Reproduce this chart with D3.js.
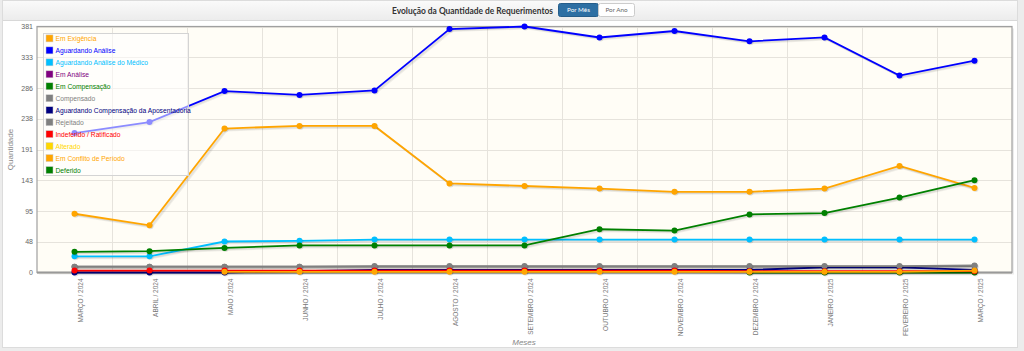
<!DOCTYPE html>
<html>
<head>
<meta charset="utf-8">
<script src="https://cdn.jsdelivr.net/npm/d3@7"></script>
<style>
  body { margin: 0; background: #ececec; }
  svg { display: block; font-family: "Liberation Sans", Arial, sans-serif; }
</style>
</head>
<body>
<svg id="chart"></svg>
<script>
const months = ["MARÇO / 2024", "ABRIL / 2024", "MAIO / 2024", "JUNHO / 2024", "JULHO / 2024",
  "AGOSTO / 2024", "SETEMBRO / 2024", "OUTUBRO / 2024", "NOVEMBRO / 2024", "DEZEMBRO / 2024",
  "JANEIRO / 2025", "FEVEREIRO / 2025", "MARÇO / 2025"];

const yTicks = [0, 47.625, 95.25, 142.875, 190.5, 238.125, 285.75, 333.375, 381];
const yTickLabels = ["0", "48", "95", "143", "191", "238", "286", "333", "381"];

const seriesNames = ["Em Exigência", "Aguardando Análise", "Aguardando Análise do Médico", "Em Análise",
  "Em Compensação", "Compensado", "Aguardando Compensação da Aposentadoria", "Rejeitado",
  "Indeferido / Ratificado", "Alterado", "Em Conflito de Período", "Deferido"];
const seriesColors = ["#FFA500", "#0000FF", "#00BFFF", "#800080", "#008000", "#808080",
  "#000080", "#808080", "#FF0000", "#FFD700", "#FFA500", "#008000"];

const emExigencia = [91, 73, 223, 227, 227, 138, 134, 130, 125, 125, 130, 165, 131];
const aguardandoAnalise = [216, 233, 281, 275, 282, 377, 381, 364, 374, 358, 364, 305, 328];
const aguardandoMedico = [25, 25, 48, 49, 51, 51, 51, 51, 51, 51, 51, 51, 51];
const emAnalise = [null, null, null, null, null, null, null, null, null, null, null, null, null];
const emCompensacao = [null, null, null, null, null, null, null, null, null, 0, 0, 0, 0];
const compensado = [9, 9, 9, 9, 9, 9, 9, 9, 9, 9, 9, 9, 10];
const aguardandoAposentadoria = [0, 0, 0, 2, 4, 4, 4, 4, 4, 4, 8, 8, 4];
const rejeitado = [9, 9, 9, 9, 10, 10, 10, 10, 10, 10, 10, 10, 11];
const indeferido = [3, 3, 3, 3, 3, 3, 3, 3, 3, 2, 2, 2, 2];
const alterado = [null, null, null, null, null, null, null, null, null, null, null, null, null];
const emConflito = [null, null, 1, 1, 1, 1, 1, 1, 1, 1, 1, 1, 3];
const deferido = [32, 33, 38, 42, 42, 42, 42, 67, 65, 90, 92, 116, 143];

const seriesValues = [emExigencia, aguardandoAnalise, aguardandoMedico, emAnalise, emCompensacao,
  compensado, aguardandoAposentadoria, rejeitado, indeferido, alterado, emConflito, deferido];

const series = seriesNames.map((name, i) => ({
  name, color: seriesColors[i],
  values: seriesValues[i].map((v, j) => ({ month: months[j], value: v }))
}));

const W = 1024, H = 351;
const plot = { left: 37, right: 1012, top: 26.5, bottom: 272.5 };

const svg = d3.select("#chart").attr("width", W).attr("height", H);

// panel + header
svg.append("rect").attr("x", 2.5).attr("y", 0.5).attr("width", 1015).attr("height", 347)
  .attr("fill", "#fff").attr("stroke", "#dcdcdc");
const grad = svg.append("defs").append("linearGradient").attr("id", "hdr").attr("x1", 0).attr("x2", 0).attr("y1", 0).attr("y2", 1);
grad.append("stop").attr("offset", "0%").attr("stop-color", "#fafafa");
grad.append("stop").attr("offset", "100%").attr("stop-color", "#ececec");
svg.append("rect").attr("x", 3).attr("y", 1).attr("width", 1014).attr("height", 19).attr("fill", "url(#hdr)");
svg.append("line").attr("x1", 3).attr("x2", 1017).attr("y1", 20.5).attr("y2", 20.5).attr("stroke", "#d8d8d8");

svg.append("text").attr("x", 472.5).attr("y", 13.5).attr("text-anchor", "middle")
  .attr("textLength", 161).attr("lengthAdjust", "spacingAndGlyphs")
  .style("font-family", "Lato, sans-serif").style("font-weight", "bold").style("font-size", "9px")
  .style("fill", "#333").text("Evolução da Quantidade de Requerimentos");

svg.append("rect").attr("x", 558.5).attr("y", 3.5).attr("width", 40).attr("height", 13)
  .attr("rx", 2).attr("fill", "#2d6fa3").attr("stroke", "#255d8a");
svg.append("text").attr("x", 578.5).attr("y", 12.3).attr("text-anchor", "middle")
  .style("font-family", "Lato, sans-serif").style("font-size", "6.3px").style("fill", "#fff").text("Por Mês");
svg.append("rect").attr("x", 598.5).attr("y", 3.5).attr("width", 36).attr("height", 13)
  .attr("rx", 2).attr("fill", "#fff").attr("stroke", "#ccc");
svg.append("text").attr("x", 616.5).attr("y", 12.3).attr("text-anchor", "middle")
  .style("font-family", "Lato, sans-serif").style("font-size", "6.3px").style("fill", "#666").text("Por Ano");

// scales
const x = d3.scaleBand().domain(months).range([plot.left, plot.right]);
const cx = d => x(d) + x.bandwidth() / 2;
const y = d3.scaleLinear().domain([0, 381]).range([plot.bottom, plot.top]);

// plot background + shadow
svg.append("rect").attr("x", plot.left + 2).attr("y", plot.top + 2)
  .attr("width", plot.right - plot.left).attr("height", plot.bottom - plot.top)
  .attr("fill", "#000").attr("opacity", 0.07);
svg.append("rect").attr("x", plot.left).attr("y", plot.top)
  .attr("width", plot.right - plot.left).attr("height", plot.bottom - plot.top)
  .attr("fill", "#fffdf6");

// grid
svg.append("g").selectAll("line").data(yTicks).join("line")
  .attr("x1", plot.left).attr("x2", plot.right)
  .attr("y1", d => Math.round(y(d)) + 0.5).attr("y2", d => Math.round(y(d)) + 0.5)
  .attr("stroke", "#e6e3dc");
svg.append("g").selectAll("line").data(months.slice(1)).join("line")
  .attr("x1", d => Math.round(x(d)) + 0.5).attr("x2", d => Math.round(x(d)) + 0.5)
  .attr("y1", plot.top).attr("y2", plot.bottom)
  .attr("stroke", "#e6e3dc");

svg.append("rect").attr("x", plot.left).attr("y", plot.top)
  .attr("width", plot.right - plot.left).attr("height", plot.bottom - plot.top)
  .attr("fill", "none").attr("stroke", "#a0a0a0").attr("stroke-width", 1.2);
svg.append("line").attr("x1", plot.left).attr("x2", plot.right)
  .attr("y1", plot.bottom).attr("y2", plot.bottom).attr("stroke", "#999").attr("stroke-width", 2);

// axes labels
svg.append("g").selectAll("text").data(yTicks).join("text")
  .attr("x", 33).attr("y", d => y(d) + 2.5).attr("text-anchor", "end")
  .style("font-size", "7px").style("fill", "#666")
  .text((d, i) => yTickLabels[i]);

svg.append("g").selectAll("text").data(months).join("text")
  .attr("transform", d => `translate(${cx(d) + 8},${plot.bottom + 6}) rotate(-90)`)
  .attr("text-anchor", "end")
  .style("font-size", "6.5px").style("fill", "#777")
  .text(d => d);

svg.append("text").attr("transform", `translate(13,${(plot.top + plot.bottom) / 2}) rotate(-90)`)
  .attr("text-anchor", "middle").style("font-size", "8px").style("fill", "#888").text("Quantidade");
svg.append("text").attr("x", 524).attr("y", 345).attr("text-anchor", "middle")
  .style("font-size", "8px").style("font-style", "italic").style("fill", "#888").text("Meses");

// lines
const line = d3.line().defined(d => d.value !== null).x(d => cx(d.month)).y(d => y(d.value));
const gSeries = svg.append("g");
series.forEach(s => {
  const g = gSeries.append("g");
  [1, 2, 3].forEach(k => {
    g.append("path").datum(s.values).attr("d", line)
      .attr("transform", `translate(${0.7 * k},${0.7 * k})`)
      .attr("fill", "none").attr("stroke", "#000").attr("stroke-opacity", 0.06).attr("stroke-width", 1.8);
  });
  g.append("path").datum(s.values).attr("d", line)
    .attr("fill", "none").attr("stroke", s.color).attr("stroke-width", 1.8);
  const pts = s.values.filter(d => d.value !== null);
  g.selectAll("circle.sh").data(pts).join("circle").attr("class", "sh")
    .attr("cx", d => cx(d.month) + 1).attr("cy", d => y(d.value) + 1).attr("r", 3)
    .attr("fill", "#000").attr("opacity", 0.1);
  g.selectAll("circle.pt").data(pts).join("circle").attr("class", "pt")
    .attr("cx", d => cx(d.month)).attr("cy", d => y(d.value)).attr("r", 3)
    .attr("fill", s.color);
});

// legend
const lg = svg.append("g");
lg.append("rect").attr("x", 43.5).attr("y", 33.5).attr("width", 145).attr("height", 142)
  .attr("fill", "#fff").attr("fill-opacity", 0.55).attr("stroke", "#d4d4d4");
const rows = lg.selectAll("g.row").data(series).join("g").attr("class", "row")
  .attr("transform", (d, i) => `translate(0,${38.4 + i * 11.97})`);
rows.append("rect").attr("x", 46).attr("y", -3.5).attr("width", 7).attr("height", 7)
  .attr("fill", d => d.color).attr("stroke", "#ccc").attr("stroke-width", 0.5);
rows.append("text").attr("x", 55.5).attr("y", 2.6)
  .style("font-size", "6.7px").style("fill", d => d.color).text(d => d.name);
</script>
</body>
</html>
